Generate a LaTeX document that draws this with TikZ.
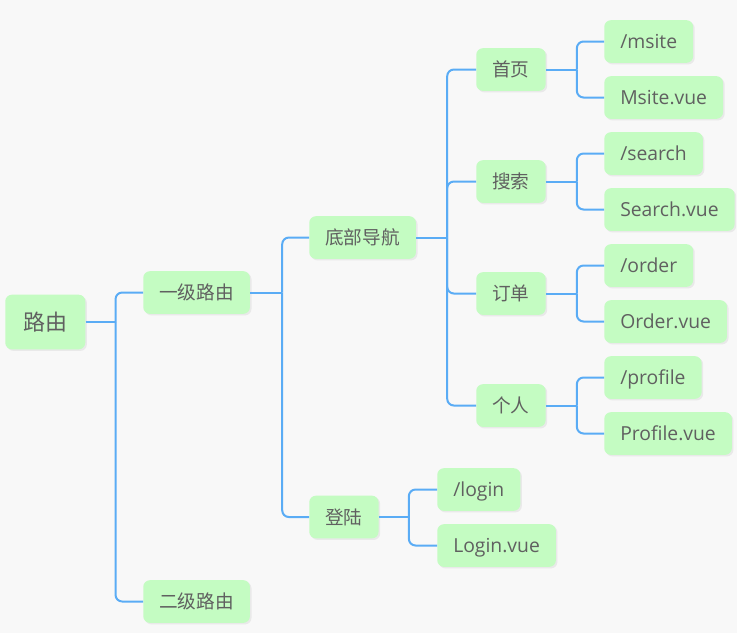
\documentclass[tikz,border=0pt]{standalone}
\usepackage{fontspec}
\setmainfont{Open Sans}
\newfontfamily\cjk{Noto Sans CJK SC}
\usepackage{xcolor}
\usetikzlibrary{shadows}

\definecolor{bggray}{RGB}{248,248,248}
\definecolor{topicgreen}{RGB}{196,252,194}
\definecolor{inkgray}{RGB}{96,96,96}
\definecolor{linkblue}{RGB}{90,172,245}

\begin{document}
\begin{tikzpicture}[
    x=0.75pt, y=-0.75pt,
    topic/.style={fill=topicgreen, rounded corners=5pt, text=inkgray, anchor=west,
        minimum height=32pt, inner xsep=12pt, font=\fontsize{14}{16}\selectfont,
        drop shadow={shadow xshift=1.2pt, shadow yshift=-1.2pt, opacity=0.12}},
    leaf/.style={topic, font=\fontsize{14.5}{16}\selectfont, text depth=0.5pt},
    rootbox/.style={topic, minimum width=60pt, minimum height=41pt, font=\fontsize{16.5}{19}\selectfont},
    link/.style={draw=linkblue, line width=1.5pt, rounded corners=5pt}
]
\useasboundingbox[fill=bggray] (0,0) rectangle (737,633);

% nodes
\node[rootbox] (root) at (5,322) {\cjk 路由};
\node[topic] (first) at (143,292.5) {\cjk 一级路由};
\node[topic] (second) at (143,601.5) {\cjk 二级路由};
\node[topic] (nav) at (309,237.5) {\cjk 底部导航};
\node[topic] (login) at (309,517) {\cjk 登陆};

\node[topic] (msite) at (476,69.5) {\cjk 首页};
\node[topic] (search) at (476,181.5) {\cjk 搜索};
\node[topic] (order) at (476,293.5) {\cjk 订单};
\node[topic] (profile) at (476,405.5) {\cjk 个人};

\node[leaf] (msitepath) at (604,41.5) {/msite};
\node[leaf] (msitevue) at (604,97.5) {Msite.vue};
\node[leaf] (searchpath) at (604,153.5) {/search};
\node[leaf] (searchvue) at (604,209.5) {Search.vue};
\node[leaf] (orderpath) at (604,265.5) {/order};
\node[leaf] (ordervue) at (604,321.5) {Order.vue};
\node[leaf] (profilepath) at (604,377.5) {/profile};
\node[leaf] (profilevue) at (604,433.5) {Profile.vue};
\node[leaf] (loginpath) at (437,489.5) {/login};
\node[leaf] (loginvue) at (437,545.5) {Login.vue};

% connectors
\draw[link] (root.east) -- ++(30,0) coordinate (jroot);
\draw[link] (jroot) |- (first.west);
\draw[link] (jroot) |- (second.west);

\draw[link] (first.east) -- ++(32,0) coordinate (jfirst);
\draw[link] (jfirst) |- (nav.west);
\draw[link] (jfirst) |- (login.west);

\draw[link] (nav.east) -- ++(31,0) coordinate (jnav);
\foreach \c in {msite, search, order, profile}
    \draw[link] (jnav) |- (\c.west);

\foreach \p in {msite, search, order, profile} {
    \draw[link] (\p.east) -- ++(31,0) coordinate (j\p);
    \draw[link] (j\p) |- (\p path.west);
    \draw[link] (j\p) |- (\p vue.west);
}

\draw[link] (login.east) -- ++(30,0) coordinate (jlogin);
\draw[link] (jlogin) |- (loginpath.west);
\draw[link] (jlogin) |- (loginvue.west);

\end{tikzpicture}
\end{document}
